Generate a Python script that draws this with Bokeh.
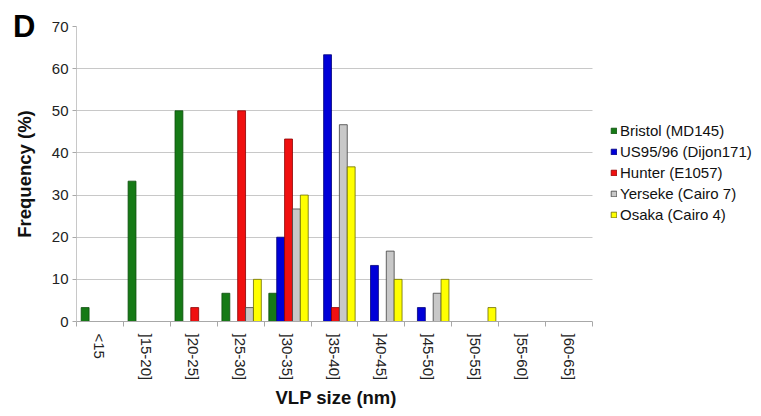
import numpy as np
from bokeh.plotting import figure
from bokeh.models import (FixedTicker, Range1d, Legend, LegendItem, LinearAxis,
                          BoxAnnotation, Title)
from bokeh.embed import file_html
from bokeh.resources import INLINE

categories = ["<15", "]15-20]", "]20-25]", "]25-30]", "]30-35]", "]35-40]",
              "]40-45]", "]45-50]", "]50-55]", "]55-60]", "]60-65]"]
bristol = [3.3, 33.3, 50.0, 6.7, 6.7, 0, 0, 0, 0, 0, 0]
us9596 = [0, 0, 0, 0, 20.0, 63.3, 13.3, 3.3, 0, 0, 0]
hunter = [0, 0, 3.3, 50.0, 43.3, 3.3, 0, 0, 0, 0, 0]
yerseke = [0, 0, 0, 3.3, 26.7, 46.7, 16.7, 6.7, 0, 0, 0]
osaka = [0, 0, 0, 10.0, 30.0, 36.7, 10.0, 10.0, 3.3, 0, 0]
series_names = ["Bristol (MD145)", "US95/96 (Dijon171)", "Hunter (E1057)",
                "Yerseke (Cairo 7)", "Osaka (Cairo 4)"]
y_ticks = [0, 10, 20, 30, 40, 50, 60, 70]
panel_letter = "D"
x_title = "VLP size (nm)"
y_title = "Frequency (%)"

series = [bristol, us9596, hunter, yerseke, osaka]
fills = ["#167a16", "#0000d8", "#f01010", "#c8c8c8", "#ffff00"]
lines = ["#0d4d0d", "#00007a", "#8a0000", "#404040", "#6b6b00"]

FONT = "Liberation Sans"
n = len(categories)

# layout (pixels)
W, H = 753, 415
LEFT, TOP, BOTTOM = 76, 26, 94
PLOT_RIGHT = 592          # right end of the category area
X_TITLE_W = 118           # approximate rendered width of the x title
frame_w = W - LEFT
x_end = n * frame_w / (PLOT_RIGHT - LEFT)

p = figure(width=W, height=H, output_backend="svg", toolbar_location=None,
           x_range=Range1d(0, x_end), y_range=Range1d(0, 70),
           min_border_left=LEFT, min_border_top=TOP, min_border_right=0,
           min_border_bottom=BOTTOM)
p.outline_line_color = None
p.background_fill_color = "white"

bw = 0.168
centers = np.arange(n) + 0.5
items = []
for k, (vals, name) in enumerate(zip(series, series_names)):
    off = (k - 2) * bw + 0.02
    r = p.vbar(x=centers + off, top=vals, width=bw, bottom=0,
               fill_color=fills[k], line_color=lines[k], line_width=0.8)
    items.append(LegendItem(label=name, renderers=[r]))

# x axis
xa = p.xaxis[0]
xa.bounds = (0, n)
xa.ticker = FixedTicker(ticks=list(centers), minor_ticks=list(range(n + 1)))
xa.major_label_overrides = {float(c): lab for c, lab in zip(centers, categories)}
xa.major_label_orientation = -np.pi / 2
xa.major_tick_line_color = None
xa.major_tick_out = 0
xa.major_tick_in = 0
xa.minor_tick_out = 5
xa.minor_tick_in = 0
xa.minor_tick_line_color = "#a8a8a8"
xa.axis_line_color = "#a8a8a8"
xa.major_label_standoff = 7
xa.major_label_text_font = FONT
xa.major_label_text_font_size = "15px"
xa.major_label_text_color = "#222222"

# x title centred under the category area (left-aligned with an offset)
xt = Title(text=x_title, align="left",
           offset=(PLOT_RIGHT - LEFT) / 2 - X_TITLE_W / 2,
           text_font=FONT, text_font_size="18.5px", text_font_style="bold",
           text_color="#111111", standoff=2)
p.add_layout(xt, "below")

ya = p.yaxis[0]
ya.ticker = FixedTicker(ticks=y_ticks, minor_ticks=[])
ya.axis_line_color = "#c8c8c8"
ya.major_tick_line_color = "#a8a8a8"
ya.major_tick_out = 4
ya.major_tick_in = 0
ya.minor_tick_line_color = None
ya.major_label_text_font = FONT
ya.major_label_text_font_size = "15px"
ya.major_label_text_color = "#222222"
ya.major_label_standoff = 4
ya.axis_label = y_title
ya.axis_label_text_font = FONT
ya.axis_label_text_font_size = "18.5px"
ya.axis_label_text_font_style = "bold"
ya.axis_label_text_color = "#111111"
ya.axis_label_standoff = 14

# panel letter drawn as an outer, line-less axis label at the top of the range
top_val = y_ticks[-1]
da = LinearAxis(ticker=FixedTicker(ticks=[top_val], minor_ticks=[]),
                major_label_overrides={top_val: panel_letter})
da.axis_line_color = None
da.major_tick_line_color = None
da.minor_tick_line_color = None
da.major_tick_out = 0
da.major_tick_in = 0
da.major_label_standoff = -25
da.major_label_text_font = FONT
da.major_label_text_font_size = "31px"
da.major_label_text_font_style = "bold"
da.major_label_text_color = "#000000"
p.add_layout(da, "left")

p.xgrid.grid_line_color = None
p.ygrid.grid_line_color = "#c8c8c8"
p.ygrid.grid_line_width = 1

# white area right of the categories (gridlines stop at the last category)
p.add_layout(BoxAnnotation(left=n, fill_color="white", fill_alpha=1.0,
                           line_color=None))

legend = Legend(items=items, location=(PLOT_RIGHT - LEFT + 18, 96),
                orientation="vertical")
legend.label_text_font = FONT
legend.label_text_font_size = "15px"
legend.label_text_color = "#111111"
legend.glyph_width = 7
legend.glyph_height = 7
legend.label_height = 21
legend.label_standoff = 3
legend.spacing = 0
legend.padding = 0
legend.margin = 0
legend.border_line_color = None
legend.background_fill_alpha = 0
p.add_layout(legend, "center")

open("out.html", "w").write(file_html(p, INLINE))
